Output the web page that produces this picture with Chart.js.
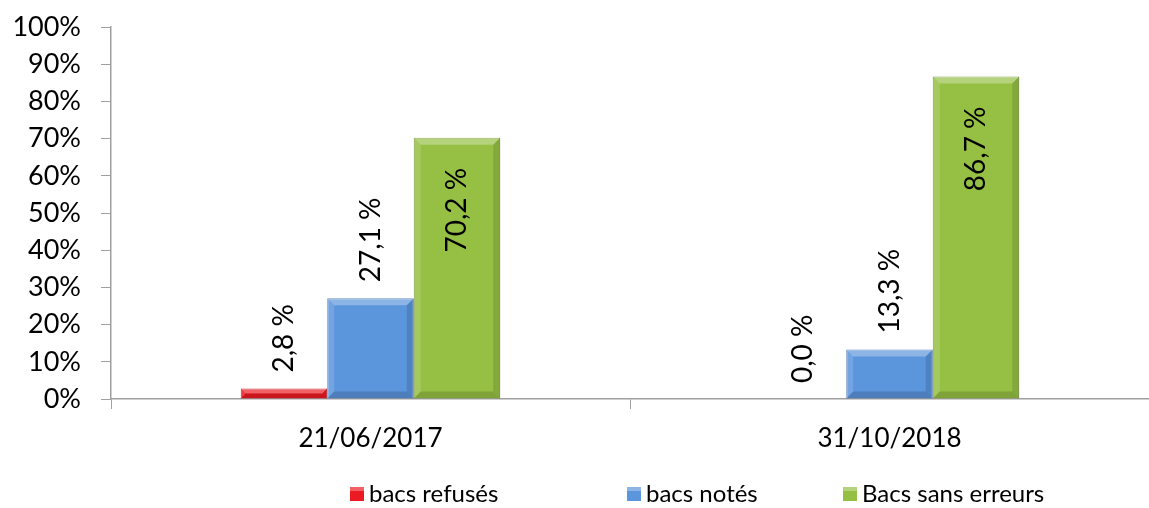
<!DOCTYPE html>
<html>
<head>
<meta charset="utf-8">
<script src="https://cdn.jsdelivr.net/npm/chart.js@4.4.1/dist/chart.umd.min.js"></script>
<style>
body { margin: 0; background: #fff; }
#box { width: 1149px; height: 508px; }
</style>
</head>
<body>
<div id="box"><canvas id="chart"></canvas></div>
<script>
var categories = ["21/06/2017", "31/10/2018"];
var refuses = [2.8, 0.0];
var notes = [27.1, 13.3];
var sansErreurs = [70.2, 86.7];
var yTicks = [0, 10, 20, 30, 40, 50, 60, 70, 80, 90, 100];

var FONT = "Lato, 'Open Sans', sans-serif";

// bevelled look of the Excel bars
var bevelBars = {
    id: 'bevelBars',
    afterDatasetsDraw: function (chart) {
        var ctx = chart.ctx;
        ctx.save();
        chart.data.datasets.forEach(function (ds, i) {
            chart.getDatasetMeta(i).data.forEach(function (bar) {
                var l = bar.x - bar.width / 2, r = bar.x + bar.width / 2;
                var t = bar.y, b = bar.base;
                var h = b - t;
                if (h < 1) return;
                var s = Math.min(7, h / 2);
                function poly(pts, col) {
                    ctx.beginPath();
                    ctx.moveTo(pts[0][0], pts[0][1]);
                    for (var k = 1; k < pts.length; k++) ctx.lineTo(pts[k][0], pts[k][1]);
                    ctx.closePath();
                    ctx.fillStyle = col;
                    ctx.fill();
                }
                poly([[l, t], [r, t], [r - s, t + s], [l + s, t + s]], 'rgba(255,255,255,0.30)');
                poly([[l, t], [l + s, t + s], [l + s, b - s], [l, b]], 'rgba(255,255,255,0.15)');
                poly([[r, t], [r, b], [r - s, b - s], [r - s, t + s]], 'rgba(0,0,0,0.12)');
                poly([[l, b], [l + s, b - s], [r - s, b - s], [r, b]], 'rgba(0,0,0,0.15)');
            });
        });
        ctx.restore();
    }
};

// labels turned -90 degrees, outside for small bars, inside top for the green ones
var barLabels = {
    id: 'barLabels',
    afterDatasetsDraw: function (chart) {
        var ctx = chart.ctx;
        ctx.save();
        ctx.font = "28px " + FONT;
        ctx.fillStyle = "#000";
        chart.data.datasets.forEach(function (ds, i) {
            var meta = chart.getDatasetMeta(i);
            meta.data.forEach(function (bar, j) {
                var txt = ds.data[j].toFixed(1).replace(".", ",") + " %";
                ctx.save();
                ctx.translate(bar.x, bar.y);
                ctx.rotate(-Math.PI / 2);
                ctx.textBaseline = "middle";
                if (ds.inside) {
                    ctx.textAlign = "right";
                    ctx.fillText(txt, -30, 0);
                } else {
                    ctx.textAlign = "left";
                    ctx.fillText(txt, 16, 0);
                }
                ctx.restore();
            });
        });
        ctx.restore();
    }
};

// Excel style legend under the plot
var legendPos = [350, 627, 843];
var bottomLegend = {
    id: 'bottomLegend',
    afterDraw: function (chart) {
        var ctx = chart.ctx;
        ctx.save();
        ctx.font = "24px " + FONT;
        ctx.textBaseline = "middle";
        ctx.fillStyle = "#000";
        chart.data.datasets.forEach(function (ds, i) {
            var x = legendPos[i], y = 494;
            ctx.fillStyle = ds.backgroundColor;
            ctx.fillRect(x, y - 7, 14, 14);
            ctx.fillStyle = 'rgba(255,255,255,0.3)';
            ctx.fillRect(x, y - 7, 14, 4);
            ctx.fillStyle = "#000";
            ctx.fillText(ds.label, x + 19, y);
        });
        ctx.restore();
    }
};

new Chart(document.getElementById("chart"), {
    type: 'bar',
    data: {
        labels: categories,
        datasets: [{
            label: 'bacs refusés',
            data: refuses,
            backgroundColor: '#ec1a22',
            borderColor: '#b8131a',
            borderWidth: 1
        },
        {
            label: 'bacs notés',
            data: notes,
            backgroundColor: '#5b95dc',
            borderColor: '#3f6fae',
            borderWidth: 1
        },
        {
            label: 'Bacs sans erreurs',
            data: sansErreurs,
            backgroundColor: '#96c044',
            borderColor: '#6d8f27',
            borderWidth: 1,
            inside: true
        }]
    },
    options: {
        responsive: true,
        maintainAspectRatio: false,
        animation: false,
        categoryPercentage: 0.5,
        barPercentage: 1.0,
        layout: { padding: { top: 27, right: 0, left: 0, bottom: 50 } },
        plugins: {
            legend: { display: false },
            tooltip: { enabled: false }
        },
        scales: {
            x: {
                grid: {
                    display: true,
                    drawOnChartArea: false,
                    offset: true,
                    tickLength: 10,
                    color: function (c) { return c.index === 2 ? 'rgba(0,0,0,0)' : '#a0a0a0'; }
                },
                border: { color: '#a0a0a0', width: 1.5 },
                ticks: { font: { family: FONT, size: 26 }, color: '#000', padding: 14 },
                afterFit: function (axis) { axis.height = 59; axis.paddingLeft = 0; axis.paddingRight = 0; }
            },
            y: {
                min: 0,
                max: 100,
                afterBuildTicks: function (axis) {
                    axis.ticks = yTicks.map(function (v) { return { value: v }; });
                },
                grid: { display: true, drawOnChartArea: false, color: '#a0a0a0', tickLength: 10 },
                border: { color: '#a0a0a0', width: 1.5 },
                ticks: {
                    font: { family: FONT, size: 27 },
                    color: '#000',
                    padding: 20,
                    callback: function (v) { return v + "%"; }
                },
                afterFit: function (axis) { axis.width = 111; axis.paddingTop = 0; axis.paddingBottom = 0; }
            }
        }
    },
    plugins: [bevelBars, barLabels, bottomLegend]
});
</script>
</body>
</html>
